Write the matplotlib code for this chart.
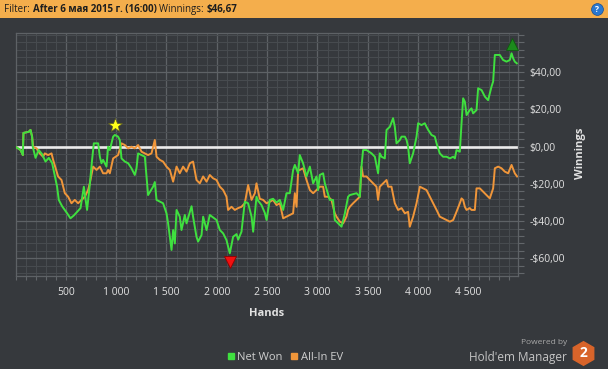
import matplotlib
matplotlib.use("Agg")
from matplotlib import pyplot as plt
from matplotlib import ticker, transforms
from matplotlib.lines import Line2D
from matplotlib.patches import Rectangle


# Net Won (green)
net_hands = [
    0, 50, 73, 79, 132, 149, 165, 171, 199, 231, 264, 298, 331, 364, 413, 430, 463, 513, 546, 579,
    612, 646, 679, 695, 711, 735, 761, 778, 821, 838, 854, 870, 904, 920, 937, 970, 987, 1019, 1036, 1053,
    1086, 1119, 1152, 1185, 1202, 1218, 1252, 1285, 1301, 1317, 1367, 1384, 1401, 1466, 1500, 1516, 1550, 1566, 1583, 1600,
    1632, 1649, 1682, 1699, 1749, 1764, 1798, 1814, 1848, 1864, 1898, 1930, 1997, 2030, 2063, 2096, 2129, 2162, 2196, 2212,
    2245, 2278, 2311, 2345, 2361, 2394, 2410, 2444, 2477, 2494, 2526, 2559, 2593, 2626, 2659, 2692, 2725, 2758, 2775, 2808,
    2824, 2857, 2891, 2924, 2957, 2990, 3006, 3023, 3056, 3073, 3122, 3155, 3172, 3205, 3239, 3272, 3304, 3321, 3388, 3421,
    3437, 3453, 3487, 3537, 3570, 3602, 3619, 3636, 3669, 3686, 3719, 3751, 3768, 3785, 3818, 3835, 3868, 3885, 3900, 3917,
    3950, 3984, 4000, 4033, 4066, 4083, 4100, 4133, 4166, 4183, 4215, 4248, 4282, 4315, 4348, 4365, 4381, 4414, 4431, 4447,
    4464, 4481, 4513, 4530, 4546, 4580, 4596, 4630, 4663, 4695, 4712, 4729, 4745, 4762, 4811, 4844, 4878, 4911, 4928, 4944,
    4960, 4980,
]
net_won = [
    0, -1.8, -4.5, 7.4, 8, 9, 5.4, 0, -6, -1.8, -4, -8, -6, -8.8, -21.5, -28.6, -32, -35.8, -38.5, -37,
    -35, -33, -21.5, -28, -34, -22, -7, 1.8, 1.8, -5.4, -8.9, -7.1, -10.7, 0, -1.8, 5.4, 6.3, 5.4, 3.6, -6.3,
    -8, -8.9, -11.6, -15.2, -11.6, -3.6, -4.5, -5.4, -16, -26, -21.5, -19, -28.6, -30.4, -35.8, -41.2, -55.5, -44.8, -52, -34,
    -37.6, -44.8, -36.7, -41.2, -32, -37.6, -48.4, -51, -47.5, -37.6, -44.8, -36.7, -39.4, -44.8, -46.6, -50.2, -57.3, -48.4, -47, -50,
    -45.7, -29.6, -30.4, -37.6, -45.7, -26.9, -29, -31.4, -35.6, -39.4, -28.6, -28, -30, -28.6, -34, -25, -25, -12.5, -9.8, -14.3,
    -4.5, -8.9, -16, -10.7, -19.7, -16, -23.3, -15.2, -14.3, -19.7, -28.6, -28.6, -39.4, -41.2, -43, -35.8, -26.9, -26, -25, -26.9,
    -10.7, -1.8, -1.8, -3.6, -5.4, -14.3, -3.6, -5.4, -6.3, 9, 10.7, 15.3, 10.7, 1.8, 3.6, 5.4, 5.4, 3.6, 0, -8.9,
    -3.6, 5.4, 12.6, 11.6, 12.6, 10.7, 9, 6.3, 5.4, 1.8, -3.6, -5.4, -5.4, -6.3, -5.4, -6.3, -1.8, -2.7, 12.6, 26,
    24.2, 17, 19.7, 20.6, 17.9, 19.7, 31.4, 30.4, 26.9, 25, 28.6, 32.3, 35, 49.3, 49.3, 46.6, 45.7, 46.6, 50.2, 47.5,
    45.7, 44.8,
]

# All-In EV (orange)
ev_hands = [
    0, 50, 73, 79, 132, 149, 165, 175, 209, 241, 274, 291, 324, 358, 374, 390, 423, 457, 490, 523,
    556, 589, 622, 656, 689, 721, 738, 771, 805, 838, 870, 904, 920, 937, 970, 1019, 1053, 1086, 1119, 1152,
    1185, 1218, 1252, 1285, 1317, 1351, 1384, 1401, 1434, 1466, 1500, 1533, 1566, 1600, 1632, 1665, 1699, 1732, 1764, 1798,
    1831, 1864, 1898, 1930, 1963, 1997, 2030, 2063, 2096, 2112, 2146, 2179, 2212, 2245, 2278, 2311, 2345, 2378, 2394, 2427,
    2460, 2494, 2526, 2559, 2593, 2626, 2659, 2692, 2725, 2758, 2775, 2792, 2808, 2824, 2857, 2891, 2924, 2957, 2990, 3023,
    3056, 3073, 3106, 3139, 3172, 3189, 3222, 3255, 3288, 3304, 3321, 3354, 3388, 3421, 3437, 3453, 3487, 3520, 3553, 3586,
    3602, 3619, 3652, 3686, 3702, 3735, 3768, 3801, 3835, 3868, 3900, 3917, 3950, 3984, 4017, 4050, 4083, 4116, 4149, 4183,
    4215, 4248, 4282, 4315, 4348, 4381, 4414, 4431, 4447, 4464, 4481, 4513, 4530, 4563, 4580, 4613, 4646, 4679, 4712, 4729,
    4745, 4762, 4795, 4828, 4861, 4894, 4928, 4960, 4983,
]
all_in_ev = [
    0, -1.8, -4.5, 7.4, 8, 9, 5.4, 0, -0.9, -3.6, -5.4, -3.6, -4.5, -3.6, -7.1, -10, -16, -17.9, -25, -26.9,
    -30.4, -28.6, -30.4, -28.6, -26.9, -23.3, -19.7, -10.7, -12.5, -10.7, -14.3, -14.3, -12.5, -14.3, -6.3, -4.5, 1.8, 0.9, -0.9, 0,
    -0.9, 0.9, -2.7, -3.6, -4.5, -3.6, 3.6, -5.4, -7.1, -8, -10.7, -12.5, -18.8, -10.7, -14.3, -10.7, -13.4, -8.9, -8, -17.9,
    -19.7, -16, -18.8, -15.2, -17, -17.9, -21.5, -23.3, -26.9, -34, -32.3, -34, -33, -32.3, -30.4, -20.6, -28.6, -25, -19.7, -28,
    -28.6, -30.4, -29.6, -28.6, -31.4, -30.4, -38.5, -37.6, -36.7, -35.8, -25, -32.3, -12.5, -12.5, -11.6, -17.9, -23.3, -25, -23.3, -21.5,
    -21.5, -26.9, -26.9, -28.6, -35.8, -37.6, -40.3, -41.2, -37.6, -34, -32.3, -30.4, -28.6, -26.9, -10.7, -16, -16, -17.9, -19.7, -21.5,
    -28.6, -21.5, -19.7, -17.9, -21.5, -21.5, -30.4, -34, -33, -35.8, -35, -43, -37.6, -30.4, -21.5, -22.4, -23.3, -26.9, -30.4, -34,
    -37.6, -38.5, -39.4, -40.3, -39.4, -35, -30.4, -27.8, -28.6, -32.3, -34, -33, -34, -34, -22.4, -22.4, -24.2, -26, -27.8, -25,
    -22.4, -11.6, -10.7, -11.6, -13.4, -14.3, -9.8, -14.3, -16,
]

# hand where the yellow star sits (on the Net Won line)
star_hand = 987

y_ticks = [-60, -40, -20, 0, 20, 40]
x_ticks = [500, 1000, 1500, 2000, 2500, 3000, 3500, 4000, 4500]

bg_color = "#36393d"
green = "#3fe03f"
orange = "#f0963a"
text_color = "#e2e2e2"

plt.rcParams["font.family"] = ["Open Sans", "DejaVu Sans"]

fig = plt.figure(figsize=(6.08, 3.69), dpi=100, facecolor=bg_color)
ax = fig.add_axes([15.5 / 608, 1 - 276 / 369, (518 - 15.5) / 608, (276 - 33) / 369])
ax.set_facecolor(bg_color)

# Lines
ax.axhline(0, color="#ececec", lw=1.9, zorder=2)
ax.plot(ev_hands, all_in_ev, color=orange, lw=1.4, zorder=3)
ax.plot(net_hands, net_won, color=green, lw=1.4, zorder=4)

# Markers: star, lowest point, highest point
up = transforms.offset_copy(ax.transData, fig=fig, y=7, units="points")
down = transforms.offset_copy(ax.transData, fig=fig, y=-6, units="points")

i_star = net_hands.index(star_hand)
i_min = net_won.index(min(net_won))
i_max = net_won.index(max(net_won))

ax.plot(net_hands[i_star], net_won[i_star], marker="*", ms=10, color="#ffff1a",
        mec="#5a5a20", mew=0.5, transform=up, zorder=5, clip_on=False)
ax.plot(net_hands[i_min], net_won[i_min], marker="v", ms=9, color="#f01010",
        mec="#900000", mew=0.6, transform=down, zorder=5, clip_on=False)
ax.plot(net_hands[i_max], net_won[i_max], marker="^", ms=9, color="#1c8a1c",
        mec="#0e5a0e", mew=0.6, transform=up, zorder=5, clip_on=False)

# Axes
ax.set_xlim(0, 4992)
ax.set_ylim(-69.5, 61.1)
ax.set_xticks(x_ticks)
ax.set_yticks(y_ticks)
ax.xaxis.set_minor_locator(ticker.MultipleLocator(100))
ax.yaxis.set_minor_locator(ticker.MultipleLocator(4))
ax.xaxis.set_major_formatter(ticker.FuncFormatter(lambda v, p: f"{int(v):,}".replace(",", " ")))
ax.yaxis.set_major_formatter(ticker.FuncFormatter(
    lambda v, p: ("-" if v < 0 else "") + f"${abs(v):.2f}".replace(".", ",")))
ax.yaxis.tick_right()

ax.tick_params(axis="both", which="both", colors="#62666a", labelcolor=text_color,
               labelsize=7.5, length=3, width=0.8)
ax.tick_params(axis="x", which="major", pad=5)
ax.tick_params(axis="y", which="both", length=4, pad=4.5)

ax.grid(which="major", color="#5e6266", lw=0.9, zorder=0)
ax.grid(which="minor", color="#474b4f", lw=0.8, zorder=0)
ax.set_axisbelow(True)
for spine in ax.spines.values():
    spine.set_color("#5e6266")
    spine.set_linewidth(0.9)

fig.text(267 / 608, 1 - 313 / 369, "Hands", color=text_color, fontsize=8,
         fontweight="bold", ha="center", va="center")
fig.text(581 / 608, 1 - 153 / 369, "Winnings", color=text_color, fontsize=8,
         fontweight="bold", ha="center", va="center", rotation=90)

# Header bar
fig.patches.append(Rectangle((0, 1 - 18 / 369), 1, 18 / 369, transform=fig.transFigure,
                             facecolor="#f4ae4c", edgecolor="none"))
renderer = fig.canvas.get_renderer()
x_pos = 4.5
for part, weight in [("Filter: ", "normal"), ("After 6 мая 2015 г. (16:00) ", "bold"),
                     ("Winnings: ", "normal"), ("$46,67", "bold")]:
    t = fig.text(x_pos / 608, 1 - 9.5 / 369, part, color="#1e1e1e", fontsize=7,
                 fontweight=weight, ha="left", va="center")
    x_pos += t.get_window_extent(renderer).width
fig.add_artist(Line2D([597 / 608], [1 - 9 / 369], marker="o", ms=8.5, color="#2a78d0",
                      mec="#1a4f8f", mew=0.5, transform=fig.transFigure))
fig.text(597 / 608, 1 - 9 / 369, "?", color="white", fontsize=6, fontweight="bold",
         ha="center", va="center")

# Legend
handles = [
    Line2D([], [], marker="s", ls="none", color=green, ms=4.5),
    Line2D([], [], marker="s", ls="none", color=orange, ms=4.5),
]
fig.legend(handles, ["Net Won", "All-In EV"], loc="center", bbox_to_anchor=(285 / 608, 1 - 357 / 369),
           ncol=2, frameon=False, fontsize=8, labelcolor="#cfcfcf", handlelength=0.6,
           handletextpad=0.3, columnspacing=0.7)

# Branding
fig.text(567 / 608, 1 - 343 / 369, "Powered by", color="#a8a8a8", fontsize=6,
         ha="right", va="center")
fig.text(567 / 608, 1 - 357 / 369, "Hold'em Manager", color="#c4c4c4", fontsize=8.5,
         ha="right", va="center")
fig.add_artist(Line2D([583 / 608], [1 - 353 / 369], marker="h", ms=17, color="#d8642a",
                      mec="#d8642a", transform=fig.transFigure))
fig.text(583 / 608, 1 - 353 / 369, "2", color="white", fontsize=10, fontweight="bold",
         ha="center", va="center")

fig.savefig("out.png", dpi=100, facecolor=bg_color)
